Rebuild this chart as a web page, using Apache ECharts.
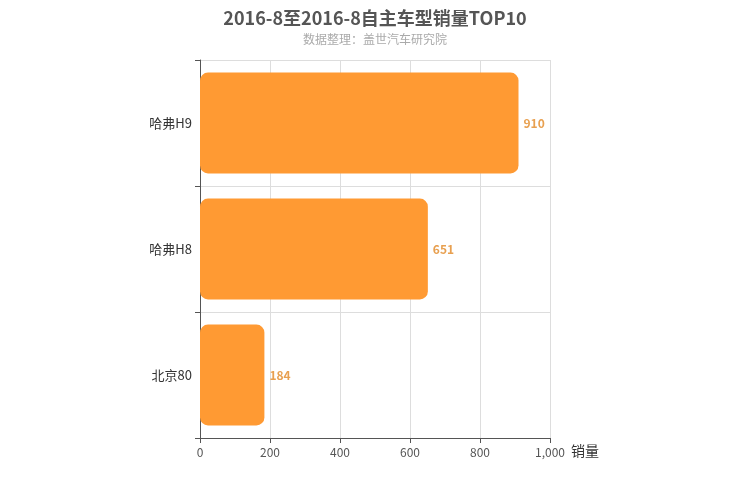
<!DOCTYPE html>
<html style="height: 100%">
<head>
  <meta charset="utf-8">
  <script src="https://cdn.jsdelivr.net/npm/echarts@6/dist/echarts.min.js"></script>
</head>
<body style="height: 100%; margin: 0; background: #fff">
  <div id="main" style="width: 750px; height: 500px"></div>
  <script type="text/javascript">
    var categories = ['北京80', '哈弗H8', '哈弗H9'];
    var sales = [184, 651, 910];
    var xTicks = { min: 0, max: 1000, interval: 200 };

    var option = {
      textStyle: { fontFamily: 'Noto Sans CJK SC, sans-serif' },
      title: {
        text: '2016-8至2016-8自主车型销量TOP10',
        subtext: '数据整理：盖世汽车研究院',
        left: 'center',
        top: 4,
        itemGap: 6,
        textStyle: { fontSize: 18, fontWeight: 'bold', color: '#555' },
        subtextStyle: { fontSize: 12, color: '#aaa' }
      },
      grid: { left: 200, right: 200, top: 60, bottom: 62 },
      xAxis: {
        type: 'value',
        min: xTicks.min,
        max: xTicks.max,
        interval: xTicks.interval,
        name: '销量',
        nameGap: 15,
        nameTextStyle: { fontSize: 14, color: '#333', verticalAlign: 'top', padding: [6, 0, 0, 0] },
        axisLine: { show: true, lineStyle: { color: '#555' } },
        axisTick: { show: true },
        axisLabel: {
          color: '#555', fontSize: 12,
          formatter: function (v) { return v.toLocaleString('en-US'); }
        },
        splitLine: { lineStyle: { color: '#ddd' } }
      },
      yAxis: {
        type: 'category',
        data: categories,
        axisLine: { lineStyle: { color: '#555' } },
        axisTick: { show: true, length: 5 },
        axisLabel: { color: '#333', fontSize: 13 },
        splitLine: { show: true, lineStyle: { color: '#ddd' } }
      },
      series: [{
        type: 'bar',
        data: sales,
        barWidth: '80%',
        itemStyle: { color: '#FF9A33', borderRadius: 8 },
        label: {
          show: true, position: 'right', color: '#E8A050',
          fontWeight: 'bold', fontSize: 12
        }
      }]
    };

    var chart = echarts.init(document.getElementById('main'));
    chart.setOption(option);
  </script>
</body>
</html>
